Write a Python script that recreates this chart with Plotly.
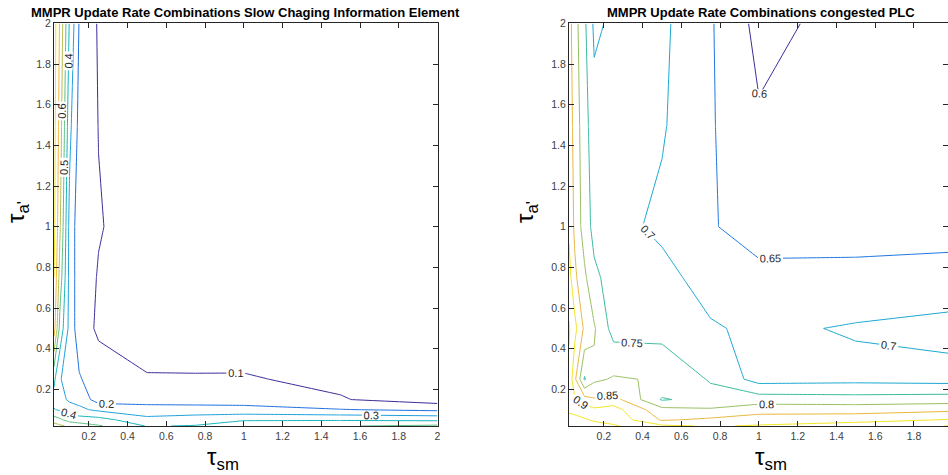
import plotly.graph_objects as go

# ---------------- data ----------------
tau_sm = [0.02, 0.05, 0.1, 0.15, 0.25, 0.5, 0.75, 1.0, 1.5, 2.0]
tau_a = [0.02, 0.05, 0.1, 0.15, 0.25, 0.5, 0.75, 1.0, 1.5, 2.0]

# rows follow tau_a (ascending), columns follow tau_sm
z_slow = [
    [0.65, 0.62, 0.58, 0.55, 0.51, 0.395, 0.405, 0.47, 0.495, 0.52],
    [0.55, 0.52, 0.46, 0.45, 0.44, 0.33, 0.36, 0.39, 0.39, 0.38],
    [0.405, 0.39, 0.36, 0.32, 0.28, 0.24, 0.235, 0.23, 0.205, 0.18],
    [0.37, 0.34, 0.28, 0.27, 0.15, 0.16, 0.16, 0.16, 0.106, 0.05],
    [0.42, 0.31, 0.24, 0.21, 0.14, 0.106, 0.106, 0.107, 0.08, 0.03],
    [0.75, 0.47, 0.27, 0.14, 0.087, 0.06, 0.055, 0.05, 0.04, 0.03],
    [0.80, 0.56, 0.27, 0.14, 0.095, 0.06, 0.05, 0.045, 0.035, 0.028],
    [0.83, 0.62, 0.27, 0.14, 0.105, 0.06, 0.05, 0.04, 0.03, 0.025],
    [0.84, 0.66, 0.33, 0.17, 0.098, 0.055, 0.045, 0.035, 0.025, 0.02],
    [0.85, 0.69, 0.39, 0.195, 0.09, 0.05, 0.04, 0.03, 0.02, 0.02],
]

z_plc = [
    [0.97, 0.975, 0.97, 0.965, 0.955, 0.91, 0.895, 0.905, 0.93, 0.952],
    [0.96, 0.96, 0.955, 0.945, 0.935, 0.845, 0.86, 0.875, 0.88, 0.905],
    [0.945, 0.94, 0.925, 0.91, 0.92, 0.815, 0.805, 0.83, 0.83, 0.84],
    [0.93, 0.905, 0.87, 0.855, 0.87, 0.745, 0.77, 0.775, 0.77, 0.775],
    [0.94, 0.86, 0.745, 0.79, 0.805, 0.795, 0.745, 0.68, 0.685, 0.68],
    [0.955, 0.915, 0.84, 0.805, 0.73, 0.73, 0.705, 0.69, 0.705, 0.72],
    [0.92, 0.86, 0.81, 0.76, 0.73, 0.715, 0.68, 0.665, 0.66, 0.66],
    [0.89, 0.84, 0.775, 0.735, 0.715, 0.69, 0.655, 0.625, 0.635, 0.64],
    [0.88, 0.83, 0.77, 0.72, 0.725, 0.705, 0.655, 0.606, 0.625, 0.635],
    [0.87, 0.82, 0.76, 0.69, 0.71, 0.71, 0.655, 0.585, 0.62, 0.63],
]

levels_slow = [0.1, 0.8, 0.1]      # start, end, step
levels_plc = [0.6, 0.95, 0.05]

title_slow = "MMPR Update Rate Combinations Slow Chaging Information Element"
title_plc = "MMPR Update Rate Combinations congested PLC"

palette = ["#3b2c9a", "#1f6fe0", "#1ea0dc", "#17b4bc",
           "#5cbf80", "#b6bd52", "#f3b53a", "#f2e41f"]
cscale = [[i / (len(palette) - 1), c] for i, c in enumerate(palette)]

FONT = "Liberation Sans, Arial, sans-serif"
W, H = 948, 475

fig = go.Figure()


def add_contour(z, lv, xa, ya):
    fig.add_trace(go.Contour(
        x=tau_sm, y=tau_a, z=z, xaxis=xa, yaxis=ya,
        zmin=lv[0], zmax=lv[1], zauto=False,
        colorscale=cscale, showscale=False,
        contours=dict(start=lv[0], end=lv[1] + 1e-4, size=lv[2],
                      coloring="lines", showlabels=True,
                      labelfont=dict(size=11, color="#262626", family=FONT),
                      labelformat=".2~f"),
        line=dict(width=1, smoothing=0),
        hoverinfo="skip",
    ))


add_contour(z_slow, levels_slow, "x", "y")
add_contour(z_plc, levels_plc, "x2", "y2")

ydom = [1 - 426 / H, 1 - 23.4 / H]
axcommon = dict(showgrid=False, zeroline=False, showline=True, linecolor="#262626",
                linewidth=1, mirror="ticks", ticks="inside", ticklen=5,
                tickcolor="#262626", tick0=0, dtick=0.2, automargin=False,
                tickfont=dict(size=10.5, color="#404040", family=FONT))

fig.update_layout(
    width=W, height=H,
    margin=dict(l=0, r=0, t=0, b=0, autoexpand=False),
    paper_bgcolor="white", plot_bgcolor="white",
    showlegend=False,
    xaxis=dict(domain=[54 / W, 437.5 / W], range=[0.02, 2], anchor="y", **axcommon),
    yaxis=dict(domain=ydom, range=[0.02, 2], anchor="x", **axcommon),
    xaxis2=dict(domain=[569 / W, 1.0], range=[0.02, 0.02 + (W - 569) / 193.8],
                anchor="y2", **axcommon),
    yaxis2=dict(domain=ydom, range=[0.02, 2], anchor="x2", **axcommon),
)

ann = []
for txt, cx in [(title_slow, 245.5), (title_plc, 761)]:
    ann.append(dict(text="<b>" + txt + "</b>", x=cx / W, y=1 - 12 / H, xref="paper",
                    yref="paper", xanchor="center", yanchor="middle", showarrow=False,
                    font=dict(size=13, color="black", family=FONT)))
for cx in [223, 771]:
    ann.append(dict(text="τ<sub>sm</sub>", x=cx / W, y=1 - 458 / H, xref="paper",
                    yref="paper", xanchor="center", yanchor="middle", showarrow=False,
                    font=dict(size=24, color="black", family=FONT)))
for cx in [17, 526]:
    ann.append(dict(text="τ<sub>a'</sub>", x=cx / W, y=1 - 212 / H, xref="paper",
                    yref="paper", xanchor="center", yanchor="middle", showarrow=False,
                    textangle=-90,
                    font=dict(size=24, color="black", family=FONT)))
fig.update_layout(annotations=ann)

fig.write_html("out.html", config={"displayModeBar": False},
               post_script="document.body.style.margin='0';")
